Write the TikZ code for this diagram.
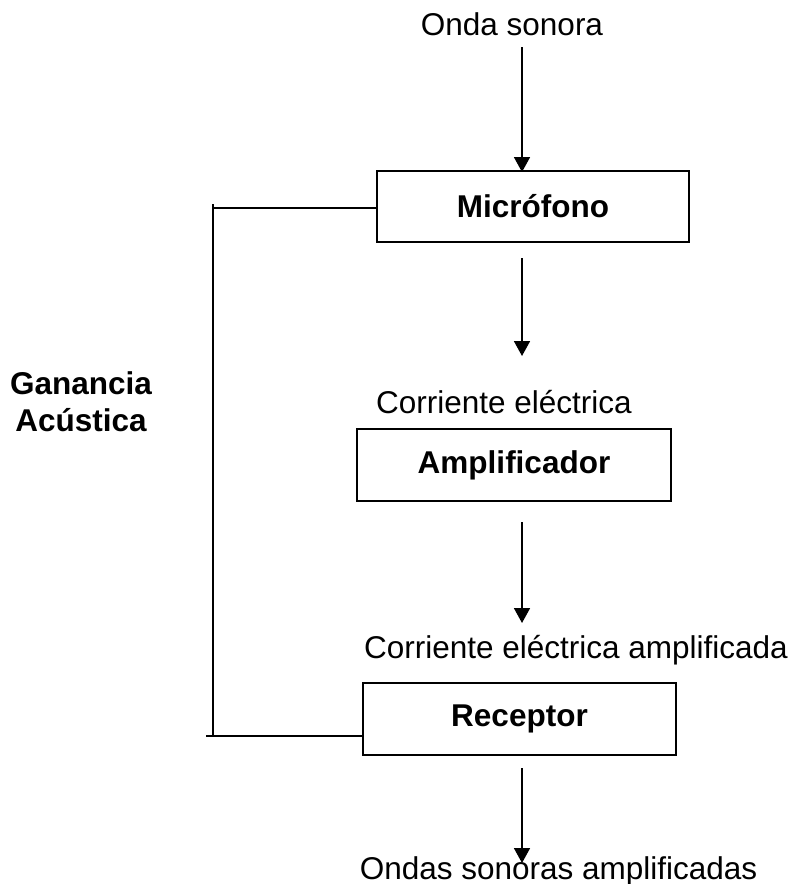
\documentclass[tikz,border=0pt]{standalone}
\usepackage{fontspec}
\setmainfont{Liberation Sans}
\usetikzlibrary{arrows.meta}
\begin{document}
\begin{tikzpicture}[x=1pt,y=-1pt,
  every node/.style={font=\fontsize{31.5}{37}\selectfont, inner sep=0pt},
  block/.style={draw, line width=1.8pt, font=\fontsize{31.5}{37}\selectfont\bfseries},
  label/.style={anchor=base},
  wire/.style={line width=1.8pt},
  flow/.style={line width=1.8pt, -{Triangle[length=15pt,width=16pt]}}]
\useasboundingbox (0,0) rectangle (790,884);

% blocks
\node[block, minimum width=312pt, minimum height=71pt] (mic) at (533,206.5) {Micrófono};
\node[block, minimum width=314pt, minimum height=72pt] (amp) at (514,465) {Amplificador};
\node[block, minimum width=313pt, minimum height=72pt] (rec) at (519.5,719) {Receptor};

% signal labels
\node[label] (in)   at (512,35)  {Onda sonora};
\node[label] (ce)   at (504,413) {Corriente eléctrica};
\node[label] (cea)  at (576,658) {Corriente eléctrica amplificada};
\node[label] (out)  at (558.5,879) {Ondas sonoras amplificadas};
\node[align=center, font=\fontsize{31.5}{37}\selectfont\bfseries, anchor=north] (gain) at (81,371) {Ganancia\\Acústica};

% flow arrows
\coordinate (a1s) at (522,47);   \coordinate (a1e) at (522,172);
\coordinate (a2s) at (522,258);  \coordinate (a2e) at (522,356);
\coordinate (a3s) at (522,522);  \coordinate (a3e) at (522,623);
\coordinate (a4s) at (522,768);  \coordinate (a4e) at (522,863);
\draw[flow] (a1s) -- (a1e);
\draw[flow] (a2s) -- (a2e);
\draw[flow] (a3s) -- (a3e);
\draw[flow] (a4s) -- (a4e);

% acoustic feedback loop
\coordinate (ftop) at (213,208);
\coordinate (fbot) at (213,736);
\coordinate (fbl)  at (206,736);
\coordinate (ftt)  at (213,204);
\draw[wire] (ftop) -- (mic.west |- ftop);
\draw[wire] (ftt) -- (fbot);
\draw[wire] (fbl) -- (rec.west |- fbl);
\end{tikzpicture}
\end{document}
